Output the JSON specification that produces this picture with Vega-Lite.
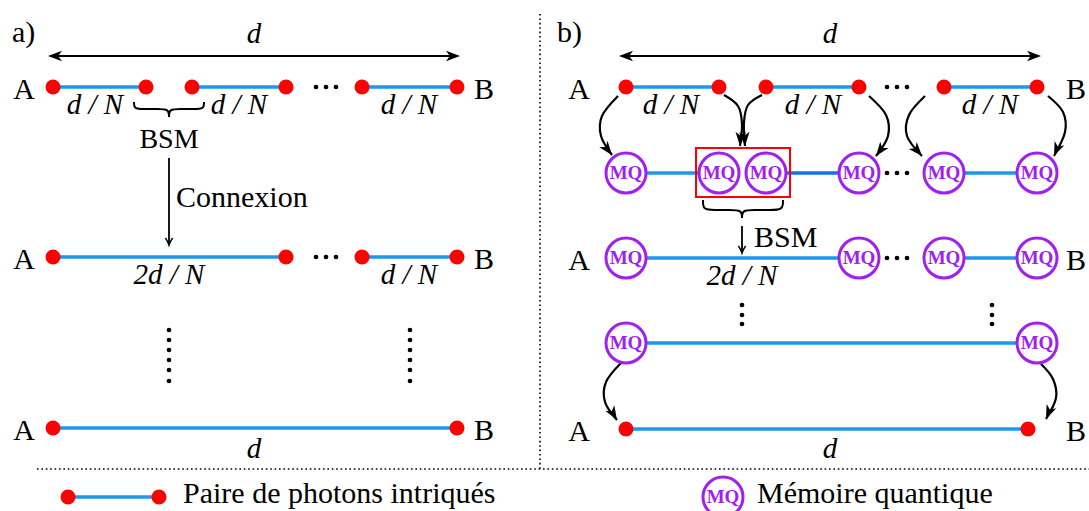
{
  "$schema": "https://vega.github.io/schema/vega-lite/v6.json",
  "width": 1089,
  "height": 511,
  "autosize": {"type": "none"},
  "padding": 0,
  "background": "white",
  "config": {"view": {"stroke": null}},
  "datasets": {
    "separators": [
      {"x": 37, "y": 469, "x2": 1089, "y2": 469},
      {"x": 540, "y": 14, "x2": 540, "y2": 469}
    ],
    "shafts": [
      {"x": 50, "y": 56, "x2": 458, "y2": 56},
      {"x": 621, "y": 56, "x2": 1039, "y2": 56},
      {"x": 169, "y": 158, "x2": 169, "y2": 244},
      {"x": 742, "y": 226, "x2": 742, "y2": 252}
    ],
    "pairs": [
      {"x": 53, "x2": 146, "y": 87}, {"x": 192, "x2": 286, "y": 87}, {"x": 362, "x2": 457, "y": 87},
      {"x": 53, "x2": 286, "y": 257}, {"x": 362, "x2": 457, "y": 257},
      {"x": 53, "x2": 457, "y": 428},
      {"x": 626, "x2": 719, "y": 87}, {"x": 766, "x2": 859, "y": 87}, {"x": 944, "x2": 1037, "y": 87},
      {"x": 626, "x2": 719, "y": 173}, {"x": 944, "x2": 1037, "y": 173},
      {"x": 626, "x2": 859, "y": 258}, {"x": 944, "x2": 1037, "y": 258},
      {"x": 626, "x2": 1037, "y": 343},
      {"x": 626, "x2": 1028, "y": 429},
      {"x": 68, "x2": 159, "y": 497}
    ],
    "links": [{"x": 766, "x2": 859, "y": 173}],
    "box": [{"x": 696, "x2": 790, "y": 148, "y2": 197}],
    "photons": [
      {"x": 53, "y": 87}, {"x": 146, "y": 87}, {"x": 192, "y": 87}, {"x": 286, "y": 87}, {"x": 362, "y": 87}, {"x": 457, "y": 87},
      {"x": 53, "y": 257}, {"x": 286, "y": 257}, {"x": 362, "y": 257}, {"x": 457, "y": 257},
      {"x": 53, "y": 428}, {"x": 457, "y": 428},
      {"x": 626, "y": 87}, {"x": 719, "y": 87}, {"x": 766, "y": 87}, {"x": 859, "y": 87}, {"x": 944, "y": 87}, {"x": 1037, "y": 87},
      {"x": 626, "y": 429}, {"x": 1028, "y": 429},
      {"x": 68, "y": 497}, {"x": 159, "y": 497}
    ],
    "memories": [
      {"x": 626, "y": 173}, {"x": 719, "y": 173}, {"x": 766, "y": 173}, {"x": 859, "y": 173}, {"x": 944, "y": 173}, {"x": 1037, "y": 173},
      {"x": 626, "y": 258}, {"x": 859, "y": 258}, {"x": 944, "y": 258}, {"x": 1037, "y": 258},
      {"x": 626, "y": 343}, {"x": 1037, "y": 343},
      {"x": 723, "y": 497}
    ],
    "ellipsis": [
      {"x": 316, "y": 87}, {"x": 326, "y": 87}, {"x": 336, "y": 87},
      {"x": 316, "y": 257}, {"x": 326, "y": 257}, {"x": 336, "y": 257},
      {"x": 887, "y": 87}, {"x": 897, "y": 87}, {"x": 907, "y": 87},
      {"x": 887, "y": 173}, {"x": 897, "y": 173}, {"x": 907, "y": 173},
      {"x": 887, "y": 258}, {"x": 897, "y": 258}, {"x": 907, "y": 258},
      {"x": 169, "y": 330}, {"x": 169, "y": 340}, {"x": 169, "y": 350}, {"x": 169, "y": 360}, {"x": 169, "y": 370}, {"x": 169, "y": 381},
      {"x": 410, "y": 330}, {"x": 410, "y": 340}, {"x": 410, "y": 350}, {"x": 410, "y": 360}, {"x": 410, "y": 370}, {"x": 410, "y": 381},
      {"x": 742, "y": 305}, {"x": 742, "y": 315}, {"x": 742, "y": 324},
      {"x": 992, "y": 305}, {"x": 992, "y": 315}, {"x": 992, "y": 324}
    ],
    "curves": [
      {"id": "c1", "i": 0, "x": 618, "y": 96}, {"id": "c1", "i": 1, "x": 602, "y": 116}, {"id": "c1", "i": 2, "x": 601, "y": 136}, {"id": "c1", "i": 3, "x": 612, "y": 155},
      {"id": "c2", "i": 0, "x": 724, "y": 95}, {"id": "c2", "i": 1, "x": 738, "y": 106}, {"id": "c2", "i": 2, "x": 742, "y": 124}, {"id": "c2", "i": 3, "x": 740, "y": 146},
      {"id": "c3", "i": 0, "x": 762, "y": 95}, {"id": "c3", "i": 1, "x": 748, "y": 105}, {"id": "c3", "i": 2, "x": 744, "y": 122}, {"id": "c3", "i": 3, "x": 745, "y": 146},
      {"id": "c4", "i": 0, "x": 869, "y": 96}, {"id": "c4", "i": 1, "x": 886, "y": 115}, {"id": "c4", "i": 2, "x": 888, "y": 136}, {"id": "c4", "i": 3, "x": 876, "y": 156},
      {"id": "c5", "i": 0, "x": 925, "y": 96}, {"id": "c5", "i": 1, "x": 909, "y": 115}, {"id": "c5", "i": 2, "x": 907, "y": 136}, {"id": "c5", "i": 3, "x": 922, "y": 156},
      {"id": "c6", "i": 0, "x": 1048, "y": 96}, {"id": "c6", "i": 1, "x": 1063, "y": 112}, {"id": "c6", "i": 2, "x": 1065, "y": 132}, {"id": "c6", "i": 3, "x": 1054, "y": 156},
      {"id": "c7", "i": 0, "x": 621, "y": 363}, {"id": "c7", "i": 1, "x": 606, "y": 382}, {"id": "c7", "i": 2, "x": 605, "y": 402}, {"id": "c7", "i": 3, "x": 617, "y": 420},
      {"id": "c8", "i": 0, "x": 1041, "y": 364}, {"id": "c8", "i": 1, "x": 1053, "y": 379}, {"id": "c8", "i": 2, "x": 1056, "y": 398}, {"id": "c8", "i": 3, "x": 1046, "y": 419}
    ],
    "braces": [
      {"id": "a", "i": 0, "x": 134, "y": 102}, {"id": "a", "i": 1, "x": 134, "y": 109}, {"id": "a", "i": 2, "x": 144, "y": 109}, {"id": "a", "i": 3, "x": 158, "y": 109},
      {"id": "a", "i": 4, "x": 169, "y": 109}, {"id": "a", "i": 5, "x": 169, "y": 117}, {"id": "a", "i": 6, "x": 169, "y": 117}, {"id": "a", "i": 7, "x": 169, "y": 117},
      {"id": "a", "i": 8, "x": 169, "y": 109}, {"id": "a", "i": 9, "x": 180, "y": 109}, {"id": "a", "i": 10, "x": 194, "y": 109}, {"id": "a", "i": 11, "x": 204, "y": 109}, {"id": "a", "i": 12, "x": 204, "y": 102},
      {"id": "b", "i": 0, "x": 703, "y": 200}, {"id": "b", "i": 1, "x": 703, "y": 210}, {"id": "b", "i": 2, "x": 714, "y": 210}, {"id": "b", "i": 3, "x": 730, "y": 210},
      {"id": "b", "i": 4, "x": 742, "y": 210}, {"id": "b", "i": 5, "x": 742, "y": 218}, {"id": "b", "i": 6, "x": 742, "y": 218}, {"id": "b", "i": 7, "x": 742, "y": 218},
      {"id": "b", "i": 8, "x": 742, "y": 210}, {"id": "b", "i": 9, "x": 754, "y": 210}, {"id": "b", "i": 10, "x": 770, "y": 210}, {"id": "b", "i": 11, "x": 783, "y": 210}, {"id": "b", "i": 12, "x": 783, "y": 200}
    ],
    "stealth": [
      {"x": 48, "y": 56, "angle": 270}, {"x": 460, "y": 56, "angle": 90},
      {"x": 619, "y": 56, "angle": 270}, {"x": 1041, "y": 56, "angle": 90},
      {"x": 612, "y": 155, "angle": 142}, {"x": 740, "y": 146, "angle": 183}, {"x": 745, "y": 146, "angle": 177},
      {"x": 876, "y": 156, "angle": 217}, {"x": 922, "y": 156, "angle": 139}, {"x": 1054, "y": 156, "angle": 203},
      {"x": 617, "y": 420, "angle": 149}, {"x": 1046, "y": 419, "angle": 203}
    ],
    "tips": [
      {"x": 169, "y": 245, "angle": 180}, {"x": 742, "y": 253, "angle": 180}
    ],
    "letters": [
      {"x": 24, "y": 99, "t": "A"}, {"x": 484, "y": 99, "t": "B"},
      {"x": 24, "y": 269, "t": "A"}, {"x": 484, "y": 269, "t": "B"},
      {"x": 24, "y": 440, "t": "A"}, {"x": 484, "y": 440, "t": "B"},
      {"x": 579, "y": 99, "t": "A"}, {"x": 1076, "y": 99, "t": "B"},
      {"x": 579, "y": 270, "t": "A"}, {"x": 1076, "y": 270, "t": "B"},
      {"x": 579, "y": 441, "t": "A"}, {"x": 1076, "y": 441, "t": "B"}
    ],
    "centered": [{"x": 169, "y": 148, "t": "BSM"}],
    "notes": [
      {"x": 12, "y": 42, "t": "a)"},
      {"x": 557, "y": 42, "t": "b)"},
      {"x": 176, "y": 207, "t": "Connexion"},
      {"x": 754, "y": 247, "t": "BSM"},
      {"x": 183, "y": 503, "t": "Paire de photons intriqués"},
      {"x": 757, "y": 503, "t": "Mémoire quantique"}
    ],
    "lengths": [
      {"x": 254, "y": 43, "t": "d"}, {"x": 830, "y": 43, "t": "d"},
      {"x": 95, "y": 114, "t": "d / N"}, {"x": 239, "y": 114, "t": "d / N"}, {"x": 409, "y": 114, "t": "d / N"},
      {"x": 671, "y": 114, "t": "d / N"}, {"x": 813, "y": 114, "t": "d / N"}, {"x": 990, "y": 114, "t": "d / N"},
      {"x": 169, "y": 284, "t": "2d / N"}, {"x": 409, "y": 284, "t": "d / N"},
      {"x": 742, "y": 285, "t": "2d / N"},
      {"x": 254, "y": 458, "t": "d"}, {"x": 830, "y": 458, "t": "d"}
    ]
  },
  "encoding": {
    "x": {"field": "x", "type": "quantitative", "scale": {"domain": [0, 1089], "nice": false, "zero": false}, "axis": null},
    "y": {"field": "y", "type": "quantitative", "scale": {"domain": [0, 511], "nice": false, "zero": false, "reverse": true}, "axis": null}
  },
  "layer": [
    {
      "data": {"name": "separators"},
      "mark": {"type": "rule", "color": "black", "strokeWidth": 1.6, "strokeDash": [1.6, 2.8]},
      "encoding": {"x2": {"field": "x2"}, "y2": {"field": "y2"}}
    },
    {
      "data": {"name": "shafts"},
      "mark": {"type": "rule", "color": "black", "strokeWidth": 1.8},
      "encoding": {"x2": {"field": "x2"}, "y2": {"field": "y2"}}
    },
    {
      "data": {"name": "pairs"},
      "mark": {"type": "rule", "color": "#1e96f0", "strokeWidth": 3.5},
      "encoding": {"x2": {"field": "x2"}}
    },
    {
      "data": {"name": "links"},
      "mark": {"type": "rule", "color": "#1a6fe6", "strokeWidth": 3.5},
      "encoding": {"x2": {"field": "x2"}}
    },
    {
      "data": {"name": "curves"},
      "mark": {"type": "line", "interpolate": "cardinal", "color": "black", "strokeWidth": 2.2},
      "encoding": {"detail": {"field": "id"}, "order": {"field": "i", "type": "quantitative"}}
    },
    {
      "data": {"name": "braces"},
      "mark": {"type": "line", "interpolate": "basis", "color": "black", "strokeWidth": 2},
      "encoding": {"detail": {"field": "id"}, "order": {"field": "i", "type": "quantitative"}}
    },
    {
      "data": {"name": "stealth"},
      "mark": {"type": "point", "shape": "M0,0L0.75,2L0,1.45L-0.75,2Z", "filled": true, "color": "black", "opacity": 1, "size": 196, "strokeWidth": 0},
      "encoding": {"angle": {"field": "angle", "type": "quantitative", "scale": null}}
    },
    {
      "data": {"name": "tips"},
      "mark": {"type": "point", "shape": "M-0.9,1.8Q-0.2,0.7 0,0Q0.2,0.7 0.9,1.8", "filled": false, "color": "black", "opacity": 1, "size": 64, "strokeWidth": 1.5},
      "encoding": {"angle": {"field": "angle", "type": "quantitative", "scale": null}}
    },
    {
      "data": {"name": "box"},
      "mark": {"type": "rect", "filled": false, "stroke": "#ff0000", "strokeWidth": 2},
      "encoding": {"x2": {"field": "x2"}, "y2": {"field": "y2"}}
    },
    {
      "data": {"name": "photons"},
      "mark": {"type": "point", "shape": "circle", "filled": true, "color": "#ff0000", "opacity": 1, "size": 225, "strokeWidth": 0}
    },
    {
      "data": {"name": "ellipsis"},
      "mark": {"type": "point", "shape": "circle", "filled": true, "color": "black", "opacity": 1, "size": 22, "strokeWidth": 0}
    },
    {
      "data": {"name": "memories"},
      "mark": {"type": "point", "shape": "circle", "fill": "white", "fillOpacity": 1, "stroke": "#a020f0", "strokeWidth": 3, "opacity": 1, "size": 1600}
    },
    {
      "data": {"name": "memories"},
      "mark": {"type": "text", "font": "Liberation Serif", "fontWeight": "bold", "fontSize": 19, "color": "#a020f0", "align": "center", "baseline": "middle"},
      "encoding": {"text": {"value": "MQ"}}
    },
    {
      "data": {"name": "letters"},
      "mark": {"type": "text", "font": "Liberation Serif", "fontSize": 30, "color": "black", "align": "center", "baseline": "alphabetic"},
      "encoding": {"text": {"field": "t"}}
    },
    {
      "data": {"name": "centered"},
      "mark": {"type": "text", "font": "Liberation Serif", "fontSize": 28, "color": "black", "align": "center", "baseline": "alphabetic"},
      "encoding": {"text": {"field": "t"}}
    },
    {
      "data": {"name": "notes"},
      "mark": {"type": "text", "font": "Liberation Serif", "fontSize": 30, "color": "black", "align": "left", "baseline": "alphabetic"},
      "encoding": {"text": {"field": "t"}}
    },
    {
      "data": {"name": "lengths"},
      "mark": {"type": "text", "font": "Liberation Serif", "fontStyle": "italic", "fontSize": 29, "color": "black", "align": "center", "baseline": "alphabetic"},
      "encoding": {"text": {"field": "t"}}
    }
  ]
}
